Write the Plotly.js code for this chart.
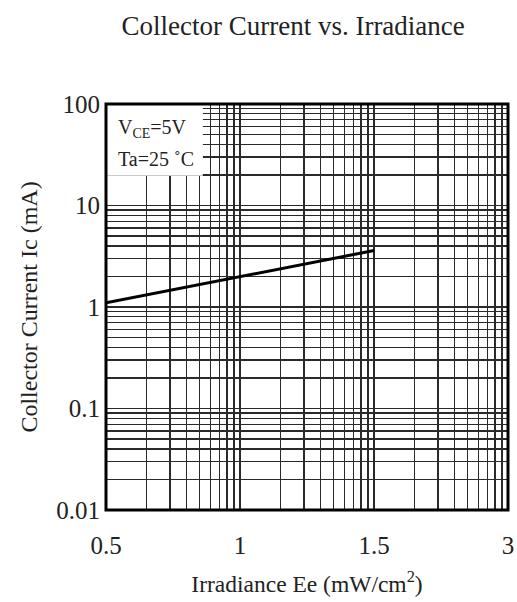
<!DOCTYPE html>
<html>
<head>
<meta charset="utf-8">
<script src="https://cdn.plot.ly/plotly-3.0.1.min.js"></script>
<style>html,body{margin:0;padding:0;background:#fff;}#chart{width:517px;height:602px;}</style>
</head>
<body>
<div id="chart"></div>
<script>
// Tick labels printed at each decade line of the x grid (as in the datasheet)
var xTickLabels = [0.5, 1, 1.5, 3];
var yTickValues = [0.01, 0.1, 1, 10, 100];
var yTickLabels = ['0.01', '0.1', '1', '10', '100'];
// Series
var irradiance = [0.5, 1.5];        // mW/cm2
var collectorCurrent = [1.1, 3.6];  // mA

// map an irradiance value onto the log-paper grid (one decade per printed label)
function toGrid(v) {
  for (var i = 0; i < xTickLabels.length - 1; i++) {
    var a = xTickLabels[i], b = xTickLabels[i + 1];
    if (v <= b || i === xTickLabels.length - 2) {
      var f = Math.log(v / a) / Math.log(b / a);
      return Math.pow(10, i + f);
    }
  }
}
var xGrid = irradiance.map(toGrid);
var xTickVals = xTickLabels.map(function (_, i) { return Math.pow(10, i); });

var serif = 'Liberation Serif, Times New Roman, serif';
var gridCol = '#2a2a2a';

var trace = {
  x: xGrid, y: collectorCurrent, mode: 'lines', type: 'scatter',
  line: {color: '#000', width: 3}, hoverinfo: 'skip', showlegend: false
};

var layout = {
  width: 517, height: 602,
  margin: {l: 106, r: 9, t: 104, b: 92},
  paper_bgcolor: '#fff', plot_bgcolor: '#fff',
  title: {text: 'Collector Current vs. Irradiance', font: {family: serif, size: 27, color: '#222'},
          xref: 'container', yref: 'container', x: 0.567, y: 0.958, xanchor: 'center', yanchor: 'middle'},
  xaxis: {
    type: 'log', range: [0, Math.log10(xTickVals[xTickVals.length - 1])],
    tickmode: 'array', tickvals: xTickVals, ticktext: xTickLabels.map(String),
    ticks: '', showline: false, zeroline: false, ticklabelstandoff: 18,
    showgrid: true, gridcolor: gridCol, gridwidth: 1.4,
    minor: {dtick: 'D1', showgrid: true, gridcolor: gridCol, gridwidth: 1.3, ticks: ''},
    tickfont: {family: serif, size: 25, color: '#222'},
    title: {text: 'Irradiance Ee (mW/cm<sup>2</sup>)', font: {family: serif, size: 23.5, color: '#222'}, standoff: 17},
    automargin: false, fixedrange: true
  },
  yaxis: {
    type: 'log', range: [-2, 2],
    tickmode: 'array', tickvals: yTickValues, ticktext: yTickLabels,
    ticks: '', showline: false, zeroline: false, ticklabelstandoff: 5,
    showgrid: true, gridcolor: gridCol, gridwidth: 1.4,
    minor: {dtick: 'D1', showgrid: true, gridcolor: gridCol, gridwidth: 1.3, ticks: ''},
    tickfont: {family: serif, size: 25, color: '#222'},
    title: {text: 'Collector Current Ic (mA)', font: {family: serif, size: 24, color: '#222'}, standoff: 11},
    automargin: false, fixedrange: true
  },
  shapes: [
    {type: 'rect', xref: 'x domain', yref: 'y domain', x0: 0, x1: 0.241, y0: 0.823, y1: 1,
     fillcolor: '#fff', line: {width: 0}, layer: 'above'},
    {type: 'rect', xref: 'x domain', yref: 'y domain', x0: 0, x1: 1, y0: 0, y1: 1,
     fillcolor: 'rgba(0,0,0,0)', line: {color: '#000', width: 3}, layer: 'above'}
  ],
  annotations: [
    {xref: 'x domain', yref: 'y domain', x: 0.025, y: 0.94, xanchor: 'left', yanchor: 'middle',
     text: 'V<sub>CE</sub>=5V', showarrow: false, font: {family: serif, size: 20, color: '#222'}},
    {xref: 'x domain', yref: 'y domain', x: 0.025, y: 0.865, xanchor: 'left', yanchor: 'middle',
     text: 'Ta=25 ˚C', showarrow: false, font: {family: serif, size: 20, color: '#222'}}
  ]
};

Plotly.newPlot('chart', [trace], layout, {displayModeBar: false, staticPlot: true});
</script>
</body>
</html>
